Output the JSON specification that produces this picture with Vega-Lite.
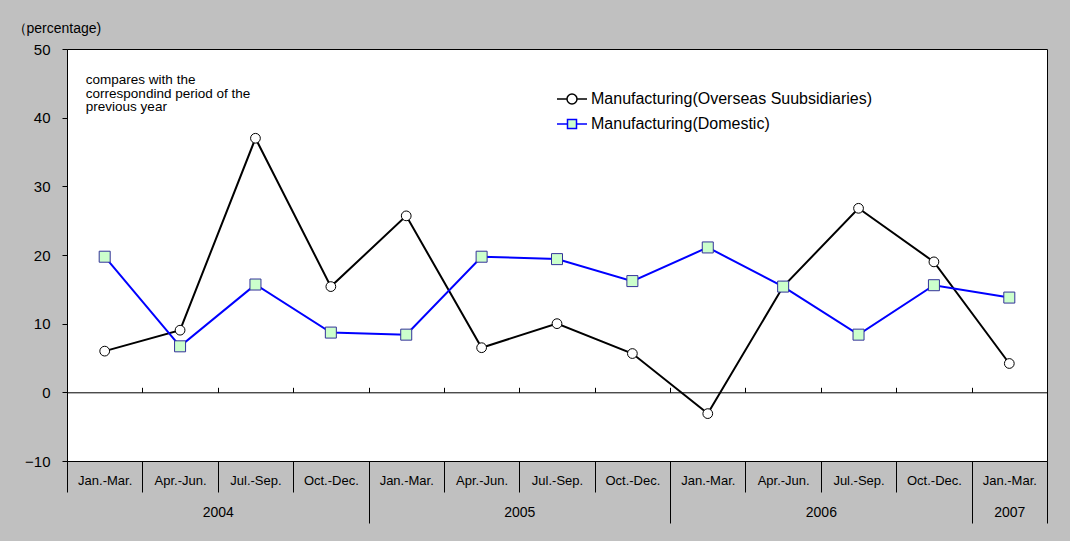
{
  "$schema": "https://vega.github.io/schema/vega-lite/v6.json",
  "width": 980,
  "height": 412,
  "autosize": {"type": "none"},
  "padding": {"left": 67, "top": 49, "right": 23, "bottom": 80},
  "background": "#c0c0c0",
  "config": {
    "view": {"stroke": "black", "strokeWidth": 1, "fill": "white"},
    "font": "Liberation Sans",
    "axis": {"labelColor": "black", "labelFont": "Liberation Sans", "grid": false},
    "axisY": {"titleAngle": 0, "titleAlign": "left", "titleBaseline": "alphabetic", "titleX": -55, "titleY": -17, "titleFontSize": 14, "titleFontWeight": "normal", "titleFont": "Liberation Sans", "titleColor": "black", "domain": true, "domainColor": "black", "ticks": true, "tickColor": "black", "tickSize": 5, "labelPadding": 12, "labelFontSize": 15, "labelFlush": false, "labels": true}
  },
  "datasets": {
    "main": [
      {"quarter": "2004-1", "series": "Manufacturing(Overseas Suubsidiaries)", "value": 6.0},
      {"quarter": "2004-2", "series": "Manufacturing(Overseas Suubsidiaries)", "value": 9.05},
      {"quarter": "2004-3", "series": "Manufacturing(Overseas Suubsidiaries)", "value": 37.0},
      {"quarter": "2004-4", "series": "Manufacturing(Overseas Suubsidiaries)", "value": 15.4},
      {"quarter": "2005-1", "series": "Manufacturing(Overseas Suubsidiaries)", "value": 25.7},
      {"quarter": "2005-2", "series": "Manufacturing(Overseas Suubsidiaries)", "value": 6.5},
      {"quarter": "2005-3", "series": "Manufacturing(Overseas Suubsidiaries)", "value": 10.0},
      {"quarter": "2005-4", "series": "Manufacturing(Overseas Suubsidiaries)", "value": 5.65},
      {"quarter": "2006-1", "series": "Manufacturing(Overseas Suubsidiaries)", "value": -3.1},
      {"quarter": "2006-2", "series": "Manufacturing(Overseas Suubsidiaries)", "value": 15.4},
      {"quarter": "2006-3", "series": "Manufacturing(Overseas Suubsidiaries)", "value": 26.8},
      {"quarter": "2006-4", "series": "Manufacturing(Overseas Suubsidiaries)", "value": 19.0},
      {"quarter": "2007-1", "series": "Manufacturing(Overseas Suubsidiaries)", "value": 4.2},
      {"quarter": "2004-1", "series": "Manufacturing(Domestic)", "value": 19.75},
      {"quarter": "2004-2", "series": "Manufacturing(Domestic)", "value": 6.7},
      {"quarter": "2004-3", "series": "Manufacturing(Domestic)", "value": 15.7},
      {"quarter": "2004-4", "series": "Manufacturing(Domestic)", "value": 8.7},
      {"quarter": "2005-1", "series": "Manufacturing(Domestic)", "value": 8.4},
      {"quarter": "2005-2", "series": "Manufacturing(Domestic)", "value": 19.75},
      {"quarter": "2005-3", "series": "Manufacturing(Domestic)", "value": 19.4},
      {"quarter": "2005-4", "series": "Manufacturing(Domestic)", "value": 16.2},
      {"quarter": "2006-1", "series": "Manufacturing(Domestic)", "value": 21.1},
      {"quarter": "2006-2", "series": "Manufacturing(Domestic)", "value": 15.4},
      {"quarter": "2006-3", "series": "Manufacturing(Domestic)", "value": 8.4},
      {"quarter": "2006-4", "series": "Manufacturing(Domestic)", "value": 15.6},
      {"quarter": "2007-1", "series": "Manufacturing(Domestic)", "value": 13.8}
    ]
  },
  "resolve": {"axis": {"x": "independent", "y": "shared"}},
  "layer": [
    {
      "data": {"name": "main"},
      "mark": {"type": "line", "strokeWidth": 2},
      "encoding": {
        "x": {"field": "quarter", "type": "ordinal", "bandPosition": 0.5,
          "scale": {"type": "band", "paddingInner": 0, "paddingOuter": 0},
          "axis": {"orient": "bottom", "title": null, "domain": false, "grid": false, "ticks": true, "tickBand": "extent", "tickSize": 31, "tickColor": "black", "tickWidth": 1, "labelPadding": -18, "labelFontSize": 13, "labelAngle": 0, "labelBaseline": "top", "labelOverlap": false, "labelBound": false,
            "labelExpr": "['Jan.-Mar.','Apr.-Jun.','Jul.-Sep.','Oct.-Dec.'][toNumber(split(datum.value,'-')[1])-1]"}},
        "y": {"field": "value", "type": "quantitative",
          "scale": {"domain": [-10, 50], "nice": false, "zero": false},
          "axis": {"title": "（percentage)", "values": [-10, 0, 10, 20, 30, 40, 50]}},
        "color": {"field": "series", "type": "nominal",
          "scale": {"domain": ["Manufacturing(Overseas Suubsidiaries)", "Manufacturing(Domestic)"], "range": ["black", "#0000ff"]},
          "legend": {"title": null, "orient": "none", "legendX": 494, "legendY": 39, "padding": 0, "symbolSize": 400, "labelFontSize": 16, "labelColor": "black", "labelFont": "Liberation Sans", "labelOffset": 8, "rowPadding": 6, "labelLimit": 0, "symbolStrokeWidth": 1.5,
            "encode": {"symbols": {"update": {
              "shape": {"signal": "datum.value == 'Manufacturing(Domestic)' ? 'M -1.5 0 L -0.45 0 M 0.45 0 L 1.5 0 M -0.45 -0.45 L 0.45 -0.45 L 0.45 0.45 L -0.45 0.45 Z' : 'M -1.5 0 L -0.5 0 M 0.5 0 L 1.5 0 M 0.5 0 A 0.5 0.5 0 1 1 -0.5 0 A 0.5 0.5 0 1 1 0.5 0 Z'"},
              "fill": {"signal": "datum.value == 'Manufacturing(Domestic)' ? '#ccffcc' : 'white'"},
              "stroke": {"signal": "datum.value == 'Manufacturing(Domestic)' ? '#0000ff' : 'black'"},
              "strokeWidth": {"value": 1.5},
              "opacity": {"value": 1}
            }}}}
        }
      }
    },
    {
      "data": {"name": "main"},
      "transform": [{"filter": "datum.series == 'Manufacturing(Overseas Suubsidiaries)'"}],
      "mark": {"type": "point", "shape": "circle", "filled": true, "fill": "white", "stroke": "black", "opacity": 1, "strokeWidth": 1, "size": 95},
      "encoding": {
        "x": {"field": "quarter", "type": "ordinal", "bandPosition": 0.5,
          "axis": {"orient": "bottom", "title": null, "domain": false, "grid": false, "ticks": true, "tickBand": "extent", "tickSize": 62, "tickColor": "black", "tickWidth": 1,
            "tickOpacity": {"condition": {"test": "indexof([3, 7, 11, 12, 13], round(datum.index * 12)) >= 0", "value": 1}, "value": 0},
            "labelPadding": -18, "labelFontSize": 14, "labelAngle": 0, "labelBaseline": "top", "labelOverlap": false, "labelBound": false,
            "labelOffset": {"condition": {"test": "datum.value == '2007-1'", "value": 0}, "value": 37.7},
            "labelExpr": "datum.value == '2004-2' ? '2004' : datum.value == '2005-2' ? '2005' : datum.value == '2006-2' ? '2006' : datum.value == '2007-1' ? '2007' : ''"}},
        "y": {"field": "value", "type": "quantitative", "axis": {"title": "（percentage)", "values": [-10, 0, 10, 20, 30, 40, 50]}}
      }
    },
    {
      "data": {"name": "main"},
      "transform": [{"filter": "datum.series == 'Manufacturing(Domestic)'"}],
      "mark": {"type": "point", "shape": "square", "filled": true, "fill": "#ccffcc", "stroke": "#333399", "opacity": 1, "strokeWidth": 1, "size": 121},
      "encoding": {
        "x": {"field": "quarter", "type": "ordinal", "bandPosition": 0.5, "axis": null},
        "y": {"field": "value", "type": "quantitative", "axis": {"title": "（percentage)", "values": [-10, 0, 10, 20, 30, 40, 50]}}
      }
    },
    {
      "data": {"values": [{"note": "compares with the\ncorrespondind period of the\nprevious year"}]},
      "mark": {"type": "text", "align": "left", "baseline": "alphabetic", "lineBreak": "\n", "lineHeight": 13.5, "fontSize": 13.5, "font": "Liberation Sans", "color": "black"},
      "encoding": {
        "x": {"datum": "2004-1", "type": "ordinal", "bandPosition": 0.25,
          "axis": {"orient": "top", "offset": -343.3, "title": null, "domain": true, "domainColor": "black", "domainWidth": 1, "ticks": true, "tickBand": "extent", "tickSize": 5, "tickColor": "black", "tickWidth": 1, "labels": false, "grid": false}},
        "y": {"datum": 44.9, "type": "quantitative", "axis": {"title": "（percentage)", "values": [-10, 0, 10, 20, 30, 40, 50]}},
        "text": {"field": "note", "type": "nominal"}
      }
    }
  ]
}
